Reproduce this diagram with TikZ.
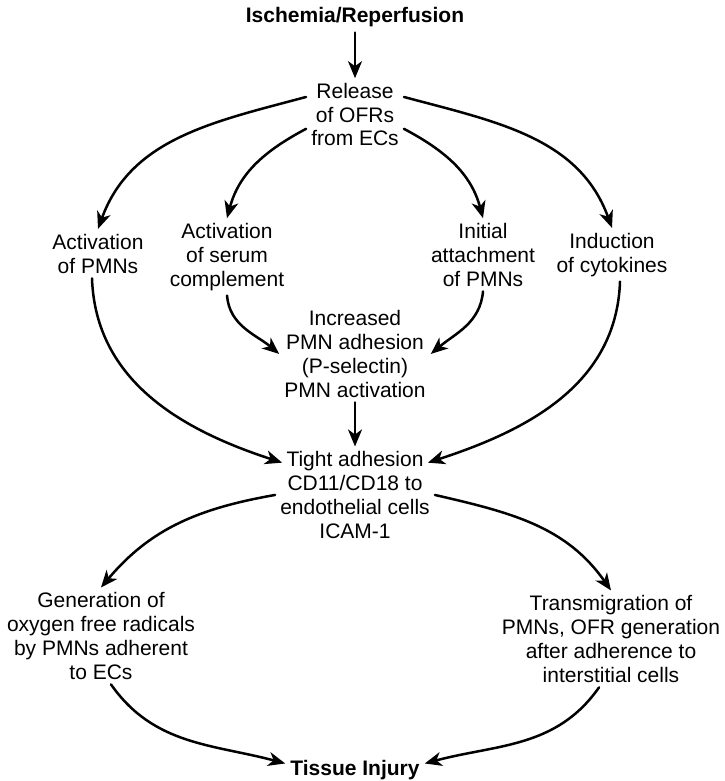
\documentclass[tikz,border=0pt]{standalone}
\usepackage{fontspec}
\setmainfont{Liberation Sans}
\usetikzlibrary{arrows.meta}

\begin{document}
\begin{tikzpicture}[line cap=round,line join=round,>={Stealth[length=17pt,width=14pt,inset=5pt]},x=1pt,y=-1pt,
  txt/.style={align=center,anchor=base,inner sep=5pt,font=\fontsize{21}{23.7}\selectfont},
  ttl/.style={txt,font=\fontsize{21}{23.7}\selectfont\bfseries},
  flow/.style={->,line width=2.5pt}]
\useasboundingbox (0,0) rectangle (724,781);
% texts (placed at the baseline of their last line)
\node[ttl] (isch) at (355,23) {Ischemia/Reperfusion};
\node[txt] (release) at (355,146) {Release\\of OFRs\\from ECs};
\node[txt] (actpmn) at (98,273) {Activation\\of PMNs};
\node[txt] (actser) at (227,286) {Activation\\of serum\\complement};
\node[txt] (initial) at (483,286) {Initial\\attachment\\of PMNs};
\node[txt] (induct) at (612,272) {Induction\\of cytokines};
\node[txt] (incr) at (355,397) {Increased\\PMN adhesion\\(P-selectin)\\PMN activation};
\node[txt] (tight) at (355,538) {Tight adhesion\\CD11/CD18 to\\endothelial cells\\ICAM-1};
\node[txt] (gener) at (101,679) {Generation of\\oxygen free radicals\\by PMNs adherent\\to ECs};
\node[txt] (transm) at (611,682) {Transmigration of\\PMNs, OFR generation\\after adherence to\\interstitial cells};
\node[ttl] (tissue) at (355,775) {Tissue Injury};
% arrows
\draw[flow] (isch) -- (release);
\draw[flow] (release.160) to[out=195,in=70] (actpmn.north);
\draw[flow] (release.20) to[out=-15,in=110] (induct.north);
\draw[flow] (release.196) to[out=208,in=75] (actser.north);
\draw[flow] (release.344) to[out=-28,in=105] (initial.north);
\draw[flow] (actser.south) to[out=-85,in=140] (incr.west);
\draw[flow] (initial.south) to[out=-95,in=40] (incr.east);
\draw[flow] (incr) -- (tight);
\draw[flow] ([xshift=-6pt]actpmn.south) to[out=-88,in=162] ([xshift=7pt]tight.158);
\draw[flow] ([xshift=8pt]induct.south) to[out=-92,in=18] ([xshift=-7pt]tight.22);
\draw[flow] (tight.west) to[out=190,in=50] (gener.north);
\draw[flow] (tight.east) to[out=-13,in=125] (transm.north);
\draw[flow] ([xshift=10pt]gener.south) to[out=-55,in=165] (tissue.175);
\draw[flow] ([xshift=-12pt]transm.south) to[out=-125,in=15] (tissue.5);
\end{tikzpicture}
\end{document}
